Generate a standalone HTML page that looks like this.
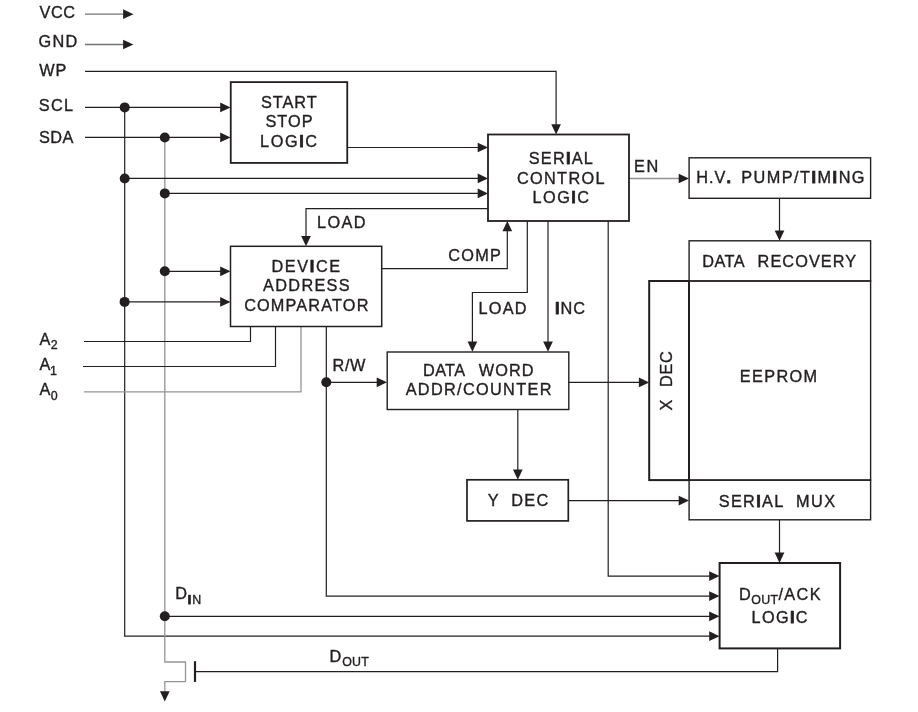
<!DOCTYPE html>
<html lang="en"><head><meta charset="utf-8"><title>Block Diagram</title>
<style>html,body{margin:0;padding:0;background:#fff}svg{display:block;will-change:transform;opacity:.999}text{font-family:"Liberation Sans",Arial,Helvetica,sans-serif;fill:#231f20;stroke:#231f20;stroke-width:.36px;white-space:pre}.b{font-weight:bold;stroke-width:.75px}</style></head><body>
<svg width="918" height="712" viewBox="0 0 918 712">
<rect width="918" height="712" fill="#fff"/>
<g fill="none" stroke-linejoin="miter" stroke-linecap="butt">
<path d="M85 14.15 L125.1 14.15" stroke="#737373" stroke-width="1.3"/>
<path d="M85 44.5 L125.1 44.5" stroke="#737373" stroke-width="1.3"/>
<path d="M85 71.45 L556.1 71.45 L556.1 126.2" stroke="#231f20" stroke-width="1.2"/>
<path d="M85 107.4 L222.2 107.4" stroke="#231f20" stroke-width="1.2"/>
<path d="M85 137.45 L222.2 137.45" stroke="#231f20" stroke-width="1.2"/>
<path d="M124.7 107.4 L124.7 636.2 L711.2 636.2" stroke="#231f20" stroke-width="1.2"/>
<path d="M164.8 137.45 L164.8 662 L185.5 662 L185.5 681.7 L164.8 681.7 L164.8 692.5" stroke="#949494" stroke-width="1.3"/>
<path d="M124.7 178.45 L479.7 178.45" stroke="#231f20" stroke-width="1.2"/>
<path d="M164.8 193.4 L479.7 193.4" stroke="#231f20" stroke-width="1.2"/>
<path d="M347 147.5 L479.7 147.5" stroke="#231f20" stroke-width="1.2"/>
<path d="M488 208.7 L306 208.7 L306 237.9" stroke="#231f20" stroke-width="1.2"/>
<path d="M164.8 271.3 L222.2 271.3" stroke="#231f20" stroke-width="1.2"/>
<path d="M124.6 301.9 L222.2 301.9" stroke="#231f20" stroke-width="1.2"/>
<path d="M381.7 268.7 L507.3 268.7 L507.3 229.3" stroke="#231f20" stroke-width="1.2"/>
<path d="M527.3 221 L527.3 292.5 L472.4 292.5 L472.4 343.4" stroke="#231f20" stroke-width="1.2"/>
<path d="M548 221 L548 343.4" stroke="#231f20" stroke-width="1.2"/>
<path d="M608.2 221 L608.2 576.1 L711.2 576.1" stroke="#231f20" stroke-width="1.2"/>
<path d="M629 178.5 L680.7 178.5" stroke="#949494" stroke-width="1.3"/>
<path d="M779.5 198.3 L779.5 232.5" stroke="#231f20" stroke-width="1.2"/>
<path d="M84 341.5 L250.5 341.5 L250.5 326.5" stroke="#231f20" stroke-width="1.2"/>
<path d="M83 366.5 L275.5 366.5 L275.5 326.5" stroke="#231f20" stroke-width="1.2"/>
<path d="M84 391.8 L301 391.8 L301 326.5" stroke="#949494" stroke-width="1.3"/>
<path d="M326.3 326.5 L326.3 596.1 L711.2 596.1" stroke="#231f20" stroke-width="1.2"/>
<path d="M326.3 382.3 L378.7 382.3" stroke="#231f20" stroke-width="1.2"/>
<path d="M568.7 382.4 L640.9 382.4" stroke="#231f20" stroke-width="1.2"/>
<path d="M517.8 409.5 L517.8 471.5" stroke="#231f20" stroke-width="1.2"/>
<path d="M568.5 500.55 L680.7 500.55" stroke="#231f20" stroke-width="1.2"/>
<path d="M779.5 519.8 L779.5 554.6" stroke="#231f20" stroke-width="1.2"/>
<path d="M164.8 616.3 L711.2 616.3" stroke="#231f20" stroke-width="1.2"/>
<path d="M777.6 648.5 L777.6 671.6 L195 671.6" stroke="#231f20" stroke-width="1.2"/>
<path d="M195 661.2 L195 681.9" stroke="#231f20" stroke-width="2.2"/>
</g>
<g fill="#fff" stroke="#231f20">
</g>
<g fill="none" stroke="#231f20">
<rect x="230.75" y="82.1" width="116.5" height="80.8" stroke-width="1.8"/>
<rect x="488" y="134.5" width="141" height="86.5" stroke-width="1.8"/>
<rect x="230.5" y="246.3" width="151.2" height="80.2" stroke-width="1.5"/>
<rect x="387.2" y="352" width="181.6" height="57.5" stroke-width="1.4"/>
<rect x="467" y="479.8" width="101.3" height="41.1" stroke-width="1.7"/>
<rect x="689.1" y="157.8" width="181.5" height="40.5" stroke-width="1.4"/>
<rect x="689.1" y="240.8" width="181.5" height="40.2" stroke-width="1.4"/>
<rect x="689.1" y="281" width="181.5" height="199.1" stroke-width="1.4"/>
<rect x="649.2" y="281" width="39.8" height="199.1" stroke-width="2"/>
<rect x="689.1" y="480.1" width="181.5" height="39.7" stroke-width="1.4"/>
<rect x="719.6" y="563" width="120.5" height="85.4" stroke-width="2"/>
</g>
<g>
<polygon points="133.4,14.15 123.1,9.3 123.1,19" fill="#231f20"/>
<polygon points="133.4,44.5 123.1,39.65 123.1,49.35" fill="#231f20"/>
<polygon points="556.1,134.5 551.25,124.2 560.95,124.2" fill="#231f20"/>
<polygon points="230.5,107.4 220.2,102.55 220.2,112.25" fill="#231f20"/>
<polygon points="230.5,137.45 220.2,132.6 220.2,142.3" fill="#231f20"/>
<polygon points="719.5,636.2 709.2,631.35 709.2,641.05" fill="#231f20"/>
<polygon points="164.8,701.6 159.95,691.3 169.65,691.3" fill="#231f20"/>
<polygon points="488,178.45 477.7,173.6 477.7,183.3" fill="#231f20"/>
<polygon points="488,193.4 477.7,188.55 477.7,198.25" fill="#231f20"/>
<polygon points="488,147.5 477.7,142.65 477.7,152.35" fill="#231f20"/>
<polygon points="306,246.2 301.15,235.9 310.85,235.9" fill="#231f20"/>
<polygon points="230.5,271.3 220.2,266.45 220.2,276.15" fill="#231f20"/>
<polygon points="230.5,301.9 220.2,297.05 220.2,306.75" fill="#231f20"/>
<polygon points="507.3,221 502.45,231.3 512.15,231.3" fill="#231f20"/>
<polygon points="472.4,351.7 467.55,341.4 477.25,341.4" fill="#231f20"/>
<polygon points="548,351.7 543.15,341.4 552.85,341.4" fill="#231f20"/>
<polygon points="719.5,576.1 709.2,571.25 709.2,580.95" fill="#231f20"/>
<polygon points="689,178.5 678.7,173.65 678.7,183.35" fill="#231f20"/>
<polygon points="779.5,240.8 774.65,230.5 784.35,230.5" fill="#231f20"/>
<polygon points="719.5,596.1 709.2,591.25 709.2,600.95" fill="#231f20"/>
<polygon points="387,382.3 376.7,377.45 376.7,387.15" fill="#231f20"/>
<polygon points="649.2,382.4 638.9,377.55 638.9,387.25" fill="#231f20"/>
<polygon points="517.8,479.8 512.95,469.5 522.65,469.5" fill="#231f20"/>
<polygon points="689,500.55 678.7,495.7 678.7,505.4" fill="#231f20"/>
<polygon points="779.5,562.9 774.65,552.6 784.35,552.6" fill="#231f20"/>
<polygon points="719.5,616.3 709.2,611.45 709.2,621.15" fill="#231f20"/>
<circle cx="124.7" cy="107.4" r="5.0" fill="#231f20"/>
<circle cx="164.8" cy="137.45" r="5.0" fill="#231f20"/>
<circle cx="124.7" cy="178.45" r="5.0" fill="#231f20"/>
<circle cx="164.8" cy="193.4" r="5.0" fill="#231f20"/>
<circle cx="164.8" cy="271.3" r="5.0" fill="#231f20"/>
<circle cx="124.6" cy="301.9" r="5.0" fill="#231f20"/>
<circle cx="326.3" cy="382.3" r="5.0" fill="#231f20"/>
<circle cx="164.8" cy="616.3" r="5.0" fill="#231f20"/>
</g>
<g>
<text x="39.38" y="18.00" font-size="16.3" letter-spacing="0.650">VCC</text>
<text x="38.50" y="47.40" font-size="16.3" letter-spacing="1.275">GND</text>
<text x="39.25" y="76.00" font-size="16.3" letter-spacing="0.800">WP</text>
<text x="38.75" y="111.00" font-size="16.3" letter-spacing="1.275">SCL</text>
<text x="38.88" y="142.50" font-size="16.3" letter-spacing="0.525">SDA</text>
<text x="260.88" y="108.00" font-size="16.3" letter-spacing="1.012">START</text>
<text x="265.45" y="127.10" font-size="16.3" letter-spacing="1.067">STOP</text>
<text x="260.12" y="147.00" font-size="16.3" letter-spacing="1.575">LOG<tspan class="b">I</tspan>C</text>
<text x="528.77" y="163.75" font-size="16.3" letter-spacing="1.240">SER<tspan class="b">I</tspan>AL</text>
<text x="516.98" y="183.50" font-size="16.3" letter-spacing="1.325">CONTROL</text>
<text x="532.62" y="202.50" font-size="16.3" letter-spacing="1.425">LOG<tspan class="b">I</tspan>C</text>
<text x="634.08" y="172.40" font-size="16.3" letter-spacing="1.450">EN</text>
<text><tspan x="696.17" y="183.00" font-size="16.3" letter-spacing="1.050">H.V<tspan class="b">.</tspan></tspan> <tspan x="741.17" y="183.00" font-size="16.3" letter-spacing="1.480">PUMP/T<tspan class="b">I</tspan>M<tspan class="b">I</tspan>NG</tspan></text>
<text><tspan x="702.17" y="266.75" font-size="16.3" letter-spacing="0.467">DATA</tspan> <tspan x="757.62" y="266.75" font-size="16.3" letter-spacing="1.071">RECOVERY</tspan></text>
<text x="739.80" y="382.00" font-size="16.3" letter-spacing="1.350">EEPROM</text>
<text><tspan x="718.77" y="506.50" font-size="16.3" letter-spacing="1.320">SER<tspan class="b">I</tspan>AL</tspan> <tspan x="796.02" y="506.50" font-size="16.3" letter-spacing="1.425">MUX</tspan></text>
<text><tspan x="739.09" y="600.15" font-size="16.3" letter-spacing="0.000">D</tspan><tspan x="751.21" y="604.40" font-size="12.4" letter-spacing="0.399">OUT</tspan><tspan x="778.50" y="600.15" font-size="16.3" letter-spacing="1.346">/ACK</tspan></text>
<text x="751.62" y="622.70" font-size="16.3" letter-spacing="1.325">LOG<tspan class="b">I</tspan>C</text>
<text x="317.10" y="228.00" font-size="16.3" letter-spacing="1.333">LOAD</text>
<text x="271.50" y="272.00" font-size="16.3" letter-spacing="1.610">DEV<tspan class="b">I</tspan>CE</text>
<text x="263.12" y="291.25" font-size="16.3" letter-spacing="1.300">ADDRESS</text>
<text x="244.17" y="310.50" font-size="16.3" letter-spacing="1.144">COMPARATOR</text>
<text x="448.37" y="261.25" font-size="16.3" letter-spacing="1.183">COMP</text>
<text x="478.62" y="314.00" font-size="16.3" letter-spacing="1.183">LOAD</text>
<text x="555.00" y="314.00" font-size="16.3" letter-spacing="1.025"><tspan class="b">I</tspan>NC</text>
<text x="332.50" y="371.00" font-size="16.3" letter-spacing="0.625">R/W</text>
<text><tspan x="423.10" y="375.90" font-size="16.3" letter-spacing="0.300">DATA</tspan> <tspan x="478.65" y="375.90" font-size="16.3" letter-spacing="1.133">WORD</tspan></text>
<text x="405.65" y="395.40" font-size="16.3" letter-spacing="1.327">ADDR/COUNTER</text>
<text><tspan x="487.70" y="506.00" font-size="16.3" letter-spacing="0.000">Y</tspan> <tspan x="511.15" y="506.00" font-size="16.3" letter-spacing="1.425">DEC</tspan></text>
<text><tspan x="39.39" y="344.95" font-size="16.3" letter-spacing="0.000">A</tspan><tspan x="50.70" y="349.25" font-size="12.4" letter-spacing="0.000">2</tspan></text>
<text><tspan x="39.39" y="370.15" font-size="16.3" letter-spacing="0.000">A</tspan><tspan x="50.08" y="374.50" font-size="12.4" letter-spacing="0.000">1</tspan></text>
<text><tspan x="39.39" y="395.45" font-size="16.3" letter-spacing="0.000">A</tspan><tspan x="50.80" y="400.30" font-size="12.4" letter-spacing="0.000">0</tspan></text>
<text><tspan x="175.19" y="598.80" font-size="16.3" letter-spacing="0.000">D</tspan><tspan x="187.86" y="603.70" font-size="12.4" letter-spacing="0.855"><tspan class="b">I</tspan>N</tspan></text>
<text><tspan x="329.59" y="661.50" font-size="16.3" letter-spacing="0.000">D</tspan><tspan x="342.21" y="666.10" font-size="12.4" letter-spacing="0.199">OUT</tspan></text>
<text transform="translate(672.00 410.38) rotate(-90)" font-size="16.3"><tspan x="0" y="0" letter-spacing="0.000">X</tspan> <tspan x="23.40" y="0" letter-spacing="0.650">DEC</tspan></text>
</g>
</svg></body></html>
